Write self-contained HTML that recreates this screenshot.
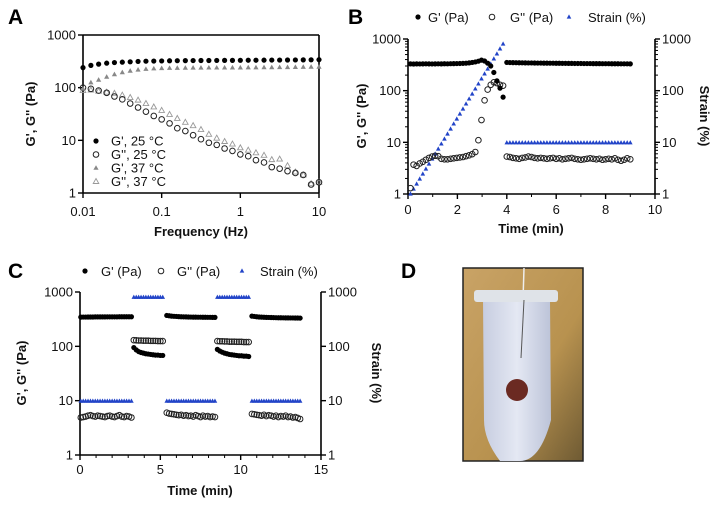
<!DOCTYPE html>
<html><head><meta charset="utf-8">
<style>
body{margin:0;background:#fff;}
svg{display:block;font-family:"Liberation Sans",Arial,sans-serif;}
.tk{font-size:13px;fill:#111;}
.ti{font-size:13px;font-weight:bold;fill:#111;}
.pl{font-size:21px;font-weight:bold;fill:#000;}
.lg{font-size:13px;fill:#111;}
</style></head>
<body>
<svg id="fig" width="715" height="505" viewBox="0 0 715 505">
<g id="gA"></g>
<g id="gB"></g>
<g id="gC"></g>
<g id="gD">
  <text class="pl" x="401" y="278">D</text>
  <defs>
    <linearGradient id="bg" x1="0" y1="0" x2="1" y2="1"><stop offset="0" stop-color="#c9a366"/><stop offset="0.6" stop-color="#b8924f"/><stop offset="1" stop-color="#6e5a33"/></linearGradient>
    <linearGradient id="tube" x1="0" y1="0" x2="1" y2="0"><stop offset="0" stop-color="#c7cde0"/><stop offset="0.5" stop-color="#e4e8f3"/><stop offset="1" stop-color="#bcc3d8"/></linearGradient>
  </defs>
  <rect x="463" y="268" width="120" height="193" fill="url(#bg)" stroke="#222" stroke-width="1.5"/>
  <line x1="524" y1="268" x2="523" y2="300" stroke="#eee" stroke-width="1.5"/>
  <path d="M483 300 L550 300 L551 420 Q540 461 520 461 L500 461 Q484 440 484 420 Z" fill="url(#tube)"/>
  <rect x="474" y="290" width="84" height="12" rx="3" fill="#dfe3e8"/>
  <line x1="524" y1="300" x2="521" y2="358" stroke="#555" stroke-width="1"/>
  <circle cx="517" cy="390" r="11" fill="#6b2a22"/>
</g>
<g id="overlay"></g>
</svg>
<script>
// ===== Panel A data =====
const freqA=[0.01,0.0126,0.0158,0.02,0.0251,0.0316,0.0398,0.0501,0.0631,0.0794,0.1,0.126,0.158,0.2,0.251,0.316,0.398,0.501,0.631,0.794,1,1.26,1.58,2,2.51,3.16,3.98,5.01,6.31,7.94,10];
const gp25=[240,265,280,292,300,305,310,315,318,320,322,324,325,326,327,328,328,329,330,330,331,332,332,333,334,334,335,336,337,338,340];
const gp37=[95,125,140,160,178,195,208,218,225,230,233,235,236,237,238,238,239,239,240,240,240,241,241,242,242,243,244,245,246,247,248];
const gpp25=[100,95,88,80,68,60,50,42,35,29,25,21,17,15,12.5,10.5,9,8.2,7,6.3,5.4,5,4.2,3.8,3.1,2.9,2.6,2.4,2.2,1.45,1.6];
const gpp37=[88,90,86,82,78,72,65,58,50,43,37,31,26,22,19,16,13,11,9.5,8.5,7.2,6.5,5.8,5.2,4.3,4.4,3.3,2.5,2.2,1.5,1.6];
const xTicksA=[0.01,0.1,1,10];
const xTickLabelsA=["0.01","0.1","1","10"];
const yTicks=[1,10,100,1000];
const yTickLabels=["1","10","100","1000"];
// ===== Panel B data =====
const tB1=[0.1,0.225,0.35,0.475,0.6,0.725,0.85,0.975,1.1,1.225,1.35,1.475,1.6,1.725,1.85,1.975,2.1,2.225,2.35,2.475,2.6,2.725,2.85,2.975,3.1,3.225,3.35,3.475,3.6,3.725,3.85];
const gpB1=[330,328,330,329,330,331,330,329,330,331,330,332,331,333,334,335,336,338,340,345,352,360,372,390,375,340,300,225,155,112,75];
const gppB1=[1.3,3.7,3.5,3.9,4.2,4.6,5.0,5.3,5.5,5.4,4.8,4.7,4.7,4.8,4.9,5.0,5.1,5.2,5.4,5.6,5.9,6.5,11,27,65,105,130,145,140,130,125];
const strainB1=[1,1.25,1.56,1.95,2.44,3.05,3.81,4.76,5.95,7.43,9.3,11.6,14.5,18.1,22.7,28.3,35.4,44.2,55.3,69.1,86.3,108,135,169,211,263,329,412,514,643,800];
const tB2=[4,4.125,4.25,4.375,4.5,4.625,4.75,4.875,5,5.125,5.25,5.375,5.5,5.625,5.75,5.875,6,6.125,6.25,6.375,6.5,6.625,6.75,6.875,7,7.125,7.25,7.375,7.5,7.625,7.75,7.875,8,8.125,8.25,8.375,8.5,8.625,8.75,8.875,9];
const gpB2=[352,350,349,348,347,346,345,344,344,343,342,342,341,341,340,340,339,339,338,338,337,337,336,336,336,335,335,335,334,334,334,333,333,333,332,332,332,331,331,331,330];
const gppB2=[5.3,5.2,5.0,4.9,4.8,5.0,5.1,5.3,5.2,5.0,4.9,5.0,4.9,4.8,4.9,5.0,4.8,4.9,4.7,4.8,4.9,5.0,4.8,4.7,4.6,4.7,4.8,4.9,4.8,4.7,4.8,4.6,4.7,4.8,4.7,4.9,4.6,4.4,4.6,4.9,4.7];
const strainB2=[9.8,9.8,9.8,9.8,9.8,9.8,9.8,9.8,9.8,9.8,9.8,9.8,9.8,9.8,9.8,9.8,9.8,9.8,9.8,9.8,9.8,9.8,9.8,9.8,9.8,9.8,9.8,9.8,9.8,9.8,9.8,9.8,9.8,9.8,9.8,9.8,9.8,9.8,9.8,9.8,9.8];
const xTicksB=[0,2,4,6,8,10];
// ===== Panel C data =====
const tCL1=[0.05,0.2,0.35,0.5,0.65,0.8,0.95,1.1,1.25,1.4,1.55,1.7,1.85,2.0,2.15,2.3,2.45,2.6,2.75,2.9,3.05,3.2];
const gpCL1=[345,346,346,347,347,347,348,348,348,348,348,349,349,349,349,349,350,350,350,350,350,350];
const gppCL1=[4.9,5.0,5.1,5.3,5.4,5.2,5.1,5.3,5.2,5.1,5.0,5.2,5.3,5.1,5.0,5.2,5.4,5.1,5.0,5.2,5.1,4.9];
const strainCL1=[9.8,9.8,9.8,9.8,9.8,9.8,9.8,9.8,9.8,9.8,9.8,9.8,9.8,9.8,9.8,9.8,9.8,9.8,9.8,9.8,9.8,9.8];
const tCH1=[3.35,3.5,3.65,3.8,3.95,4.1,4.25,4.4,4.55,4.7,4.85,5.0,5.15];
const gpCH1=[95,86,80,77,75,73,72,71,70,69,69,68,68];
const gppCH1=[130,129,128,128,127,127,127,126,126,126,125,125,125];
const strainCH1=[800,800,800,800,800,800,800,800,800,800,800,800,800];
const tCL2=[5.4,5.55,5.7,5.85,6.0,6.15,6.3,6.45,6.6,6.75,6.9,7.05,7.2,7.35,7.5,7.65,7.8,7.95,8.1,8.25,8.4];
const gpCL2=[370,365,360,357,355,352,350,349,348,347,346,345,345,344,344,343,343,342,342,341,341];
const gppCL2=[6.0,5.8,5.7,5.6,5.5,5.4,5.5,5.3,5.4,5.2,5.3,5.1,5.4,5.2,5.0,5.3,5.1,5.2,5.0,5.1,5.0];
const strainCL2=[9.8,9.8,9.8,9.8,9.8,9.8,9.8,9.8,9.8,9.8,9.8,9.8,9.8,9.8,9.8,9.8,9.8,9.8,9.8,9.8,9.8];
const tCH2=[8.55,8.7,8.85,9.0,9.15,9.3,9.45,9.6,9.75,9.9,10.05,10.2,10.35,10.5];
const gpCH2=[88,82,78,75,73,71,70,69,68,67,67,66,66,65];
const gppCH2=[125,124,124,123,123,122,122,122,121,121,121,120,120,120];
const strainCH2=[800,800,800,800,800,800,800,800,800,800,800,800,800,800];
const tCL3=[10.7,10.85,11.0,11.15,11.3,11.45,11.6,11.75,11.9,12.05,12.2,12.35,12.5,12.65,12.8,12.95,13.1,13.25,13.4,13.55,13.7];
const gpCL3=[360,355,350,347,345,343,341,340,339,338,337,336,336,335,334,334,333,333,332,332,331];
const gppCL3=[5.7,5.6,5.5,5.4,5.3,5.5,5.2,5.4,5.3,5.1,5.3,5.0,5.2,5.1,5.3,5.0,5.1,4.9,5.0,4.8,4.6];
const strainCL3=[9.8,9.8,9.8,9.8,9.8,9.8,9.8,9.8,9.8,9.8,9.8,9.8,9.8,9.8,9.8,9.8,9.8,9.8,9.8,9.8,9.8];
const xTicksC=[0,5,10,15];

const NS='http://www.w3.org/2000/svg';
function mk(parent,tag,attrs){const e=document.createElementNS(NS,tag);for(const k in attrs)e.setAttribute(k,attrs[k]);parent.appendChild(e);return e;}
function logScale(v,a,b,p0,p1){return p0+(Math.log10(v)-Math.log10(a))/(Math.log10(b)-Math.log10(a))*(p1-p0);}
function linScale(v,a,b,p0,p1){return p0+(v-a)/(b-a)*(p1-p0);}
function marker(g,type,x,y){
  let e;
  if(type==='dot'){e=mk(g,'circle',{cx:x,cy:y,r:2.6,fill:'#000'});}
  else if(type==='ring'){e=mk(g,'circle',{cx:x,cy:y,r:2.8,fill:'none',stroke:'#222','stroke-width':1});}
  else if(type==='tri'){e=mk(g,'path',{d:`M${x} ${y-2.8}L${x+2.6} ${y+1.8}L${x-2.6} ${y+1.8}Z`,fill:'#888'});}
  else if(type==='otri'){e=mk(g,'path',{d:`M${x} ${y-3}L${x+2.8} ${y+2}L${x-2.8} ${y+2}Z`,fill:'none',stroke:'#999','stroke-width':0.9});}
  else if(type==='btri'){e=mk(g,'path',{d:`M${x} ${y-2.6}L${x+2.3} ${y+1.6}L${x-2.3} ${y+1.6}Z`,fill:'#2244c8'});}
  return e;
}
function series(g,name,type,xs,ys,fx,fy){
  const sg=mk(g,'g',{});
  
  
  for(let i=0;i<xs.length;i++){
    const m=marker(sg,type,fx(xs[i]),fy(ys[i]));
    
    
  }
}
function txt(g,x,y,s,cls,anchor,rot){
  const t=mk(g,'text',{x:x,y:y,class:cls,'text-anchor':anchor||'start'});
  if(rot)t.setAttribute('transform',`rotate(${rot} ${x} ${y})`);
  t.textContent=s;return t;
}
function frame(g,x0,x1,y0,y1,box){
  const a=mk(g,'g',{});
  
  
  mk(a,'line',{x1:x0,y1:y0,x2:x0,y2:y1,stroke:'#000','stroke-width':1.6});
  mk(a,'line',{x1:x0,y1:y1,x2:x1,y2:y1,stroke:'#000','stroke-width':1.6});
  if(box){mk(a,'line',{x1:x0,y1:y0,x2:x1,y2:y0,stroke:'#000','stroke-width':1.6});}
  mk(a,'line',{x1:x1,y1:y0,x2:x1,y2:y1,stroke:'#000','stroke-width':1.6});
  return a;
}
function yLogTicks(a,x0,x1,fy,minor,right){
  yTicks.forEach((v,i)=>{
    const y=fy(v);
    mk(a,'line',{x1:x0-5,y1:y,x2:x0,y2:y,stroke:'#000','stroke-width':1.4});
    txt(a,x0-7,y+4.5,yTickLabels[i],'tk','end');
    if(right){mk(a,'line',{x1:x1,y1:y,x2:x1+5,y2:y,stroke:'#000','stroke-width':1.4});txt(a,x1+7,y+4.5,yTickLabels[i],'tk','start');}
    if(minor&&i<yTicks.length-1){for(let k=2;k<10;k++){const yy=fy(v*k);
      mk(a,'line',{x1:x0-3,y1:yy,x2:x0,y2:yy,stroke:'#000','stroke-width':1});
      if(right)mk(a,'line',{x1:x1,y1:yy,x2:x1+3,y2:yy,stroke:'#000','stroke-width':1});}}
  });
}

// ===== Panel A =====
(function(){
const g=document.getElementById('gA');
const X0=83,X1=319,Y0=35,Y1=193;
const fx=v=>logScale(v,0.01,10,X0,X1), fy=v=>logScale(v,1,1000,Y1,Y0);
txt(g,8,24,'A','pl');
const a=frame(g,X0,X1,Y0,Y1,true);
yLogTicks(a,X0,X1,fy,false,false);
xTicksA.forEach((v,i)=>{const x=fx(v);mk(a,'line',{x1:x,y1:Y1,x2:x,y2:Y1+5,stroke:'#000','stroke-width':1.4});txt(a,x,216,xTickLabelsA[i],'tk','middle');});
txt(g,201,236,'Frequency (Hz)','ti','middle');
txt(g,35,114,"G', G'' (Pa)",'ti','middle',-90);
series(g,'gpp37','otri',freqA,gpp37,fx,fy);
series(g,'gpp25','ring',freqA,gpp25,fx,fy);
series(g,'gp37','tri',freqA,gp37,fx,fy);
series(g,'gp25','dot',freqA,gp25,fx,fy);
const lg=mk(g,'g',{});
const items=[['dot',"G', 25 °C"],['ring',"G'', 25 °C"],['tri',"G', 37 °C"],['otri',"G'', 37 °C"]];
items.forEach((it,i)=>{const y=141+i*13.5;marker(lg,it[0],96,y);txt(lg,111,y+4.5,it[1],'lg');});
})();

function legend3(g,x,y,pos){
  const lg=mk(g,'g',{});
  
  
  marker(lg,'dot',pos[0],y);txt(lg,pos[1],y+5,"G' (Pa)",'lg');
  marker(lg,'ring',pos[2],y);txt(lg,pos[3],y+5,"G'' (Pa)",'lg');
  marker(lg,'btri',pos[4],y);txt(lg,pos[5],y+5,"Strain (%)",'lg');
}

// ===== Panel B =====
(function(){
const g=document.getElementById('gB');
const X0=408,X1=655,Y0=39,Y1=194;
const fx=v=>linScale(v,0,10,X0,X1), fy=v=>logScale(v,1,1000,Y1,Y0);
txt(g,348,24,'B','pl');
legend3(g,0,17,[418,428,492,510,569,588]);
const a=frame(g,X0,X1,Y0,Y1,false);
yLogTicks(a,X0,X1,fy,true,true);
xTicksB.forEach(v=>{const x=fx(v);mk(a,'line',{x1:x,y1:Y1,x2:x,y2:Y1+5,stroke:'#000','stroke-width':1.4});txt(a,x,214,String(v),'tk','middle');});
for(let v=1;v<10;v+=2){const x=fx(v);mk(a,'line',{x1:x,y1:Y1,x2:x,y2:Y1+3,stroke:'#000','stroke-width':1});}
txt(g,531,233,'Time (min)','ti','middle');
txt(g,366,116,"G', G'' (Pa)",'ti','middle',-90);
txt(g,700,116,"Strain (%)",'ti','middle',90);
series(g,'strain-sweep','btri',tB1,strainB1,fx,fy);
series(g,'strain-recovery','btri',tB2,strainB2,fx,fy);
series(g,'gpp-sweep','ring',tB1,gppB1,fx,fy);
series(g,'gpp-recovery','ring',tB2,gppB2,fx,fy);
series(g,'gp-sweep','dot',tB1,gpB1,fx,fy);
series(g,'gp-recovery','dot',tB2,gpB2,fx,fy);
})();

// ===== Panel C =====
(function(){
const g=document.getElementById('gC');
const X0=80,X1=321,Y0=292,Y1=455;
const fx=v=>linScale(v,0,15,X0,X1), fy=v=>logScale(v,1,1000,Y1,Y0);
txt(g,8,278,'C','pl');
legend3(g,0,271,[85,101,161,177,242,260]);
const a=frame(g,X0,X1,Y0,Y1,false);
yLogTicks(a,X0,X1,fy,false,true);
xTicksC.forEach(v=>{const x=fx(v);mk(a,'line',{x1:x,y1:Y1,x2:x,y2:Y1+5,stroke:'#000','stroke-width':1.4});txt(a,x,474,String(v),'tk','middle');});
for(let v=1;v<15;v++){if(v%5){const x=fx(v);mk(a,'line',{x1:x,y1:Y1,x2:x,y2:Y1+3,stroke:'#000','stroke-width':1});}}
txt(g,200,495,'Time (min)','ti','middle');
txt(g,26,373,"G', G'' (Pa)",'ti','middle',-90);
txt(g,372,373,"Strain (%)",'ti','middle',90);
const segs=[[tCL1,gpCL1,gppCL1,strainCL1,'low1'],[tCH1,gpCH1,gppCH1,strainCH1,'high1'],[tCL2,gpCL2,gppCL2,strainCL2,'low2'],[tCH2,gpCH2,gppCH2,strainCH2,'high2'],[tCL3,gpCL3,gppCL3,strainCL3,'low3']];
segs.forEach(s=>{
  series(g,'strain-'+s[4],'btri',s[0],s[3],fx,fy);
  series(g,'gpp-'+s[4],'ring',s[0],s[2],fx,fy);
  series(g,'gp-'+s[4],'dot',s[0],s[1],fx,fy);
});
})();
</script>
</body></html>
